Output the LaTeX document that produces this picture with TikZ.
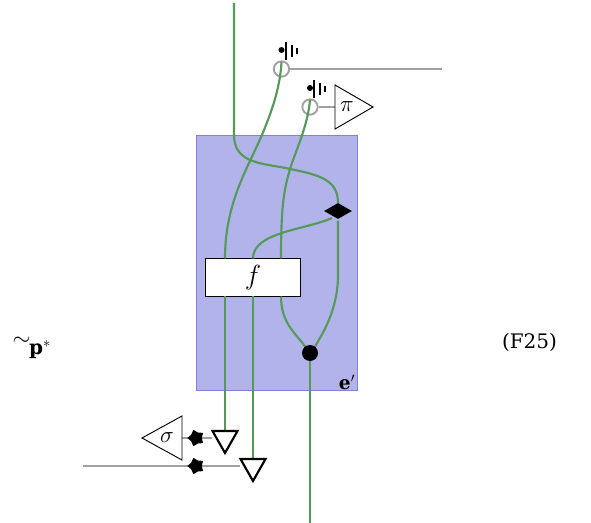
\documentclass[tikz,border=0pt]{standalone}
\usepackage{fontspec}
\setmainfont{DejaVu Serif}
\usetikzlibrary{shapes.geometric}
\definecolor{wire}{HTML}{559A58}
\definecolor{greyw}{HTML}{A0A0A0}
\definecolor{panel}{HTML}{B3B3EC}
\definecolor{panelb}{HTML}{8080E0}
\tikzset{
  x=0.75pt,y=-0.75pt,
  wirew/.style={draw=wire,line width=1.6pt},
  greyl/.style={draw=greyw,line width=1.6pt},
  ringn/.style={circle,draw=greyw,line width=1.4pt,minimum size=11.5pt,inner sep=0pt},
  dotn/.style={circle,fill=black,inner sep=0pt,minimum size=4.5pt},
  bar/.style={draw=black,line width=1.4pt},
  tri/.style={draw=black,line width=1.6pt,fill=white,line join=miter},
  thintri/.style={draw=black,line width=0.7pt,fill=white},
  starn/.style={star,star points=5,star point ratio=1.5,fill=black,inner sep=0pt,minimum size=13pt,shape border rotate=90},
  txt/.style={inner sep=0pt,font=\fontsize{15}{18}\selectfont},
  mth/.style={inner sep=0pt,font=\fontsize{17}{20}\selectfont},
}
\begin{document}
\begin{tikzpicture}
\useasboundingbox (0,0) rectangle (591,523);
\draw[draw=panelb,fill=panel,line width=0.7pt] (196.5,135.5) rectangle (357,390.5);
% anchors
\coordinate (top) at (234,3);
\coordinate (bot) at (310,523);
\coordinate (gend) at (442,69);
\coordinate (gstart) at (83,466);
\node[ringn] (r1) at (281.5,69) {};
\node[ringn] (r2) at (310,107) {};
\node[dotn] (d1) at (281.5,50) {};
\node[dotn] (d2) at (310,88) {};
\node[draw=black,fill=white,line width=0.8pt,minimum width=71pt,minimum height=28pt,inner sep=0pt] (f) at (253,277.5) {\fontsize{21}{24}\selectfont$f$};
% wires
\draw[wirew] (top) -- (234,135) .. controls (234,165) and (265,163) .. (290,169) .. controls (320,175) and (338,180) .. (338,203);
\draw[wirew] (281.5,62) .. controls (280,90) and (270,115) .. (264,130) .. controls (250,165) and (225,200) .. (225,258.5);
\draw[wirew] (310,100) .. controls (308,125) and (296,150) .. (290,169) .. controls (284,190) and (281,205) .. (281,258.5);
\draw[wirew] (332,218) .. controls (305,230) and (253,232) .. (253,258.5);
\draw[wirew] (338,221) -- (338,275) .. controls (338,310) and (322,335) .. (314,348);
\draw[wirew] (281,296.5) .. controls (281,325) and (298,335) .. (306,348);
\draw[wirew] (310,358) -- (bot);
\draw[wirew] (225,296.5) -- (225,431);
\draw[wirew] (253,296.5) -- (253,459);
\node[diamond,fill=black,inner sep=0pt,minimum width=21pt,minimum height=12pt] (dia) at (338,211) {};
\node[circle,fill=black,inner sep=0pt,minimum size=12pt] (dot) at (310,353) {};
% grey
\draw[greyl] (r1) -- (gend);
\draw[greyl] (r2) -- (335,107);
\draw[greyl] (182,438) -- (212,438);
\draw[greyl] (gstart) -- (240,466);
% triangles
\draw[thintri] (335,85) -- (373,107) -- (335,129) -- cycle;
\node[mth] at (347,107) {$\pi$};
\draw[thintri] (182,416) -- (142,438) -- (182,460) -- cycle;
\node[mth] at (167,438) {$\sigma$};
\draw[tri] (212.5,431) -- (237.5,431) -- (225,453) -- cycle;
\draw[tri] (240.5,459) -- (265.5,459) -- (253,481) -- cycle;
\node[starn] (s1) at (196,438) {};
\node[starn] (s2) at (196,466) {};
% ground marks
\draw[bar] (285.7,42) -- (285.7,60);
\draw[bar] (291.7,45) -- (291.7,57);
\draw[bar] (296.7,48) -- (296.7,54);
\draw[bar] (314.2,80) -- (314.2,98);
\draw[bar] (320.2,83) -- (320.2,95);
\draw[bar] (325.2,86) -- (325.2,92);
% text
\node[txt,anchor=base] at (529.5,348) {(F25)};
\node[inner sep=0pt,font=\fontsize{14}{16}\selectfont,anchor=base] (e) at (347,389) {$\mathbf{e}'$};
\node[inner sep=0pt,font=\fontsize{17}{20}\selectfont] at (21.5,341) {$\sim$};
\node[inner sep=0pt,font=\fontsize{15}{18}\selectfont,anchor=base] at (40,354) {$\mathbf{p}^{*}$};
\end{tikzpicture}
\end{document}
